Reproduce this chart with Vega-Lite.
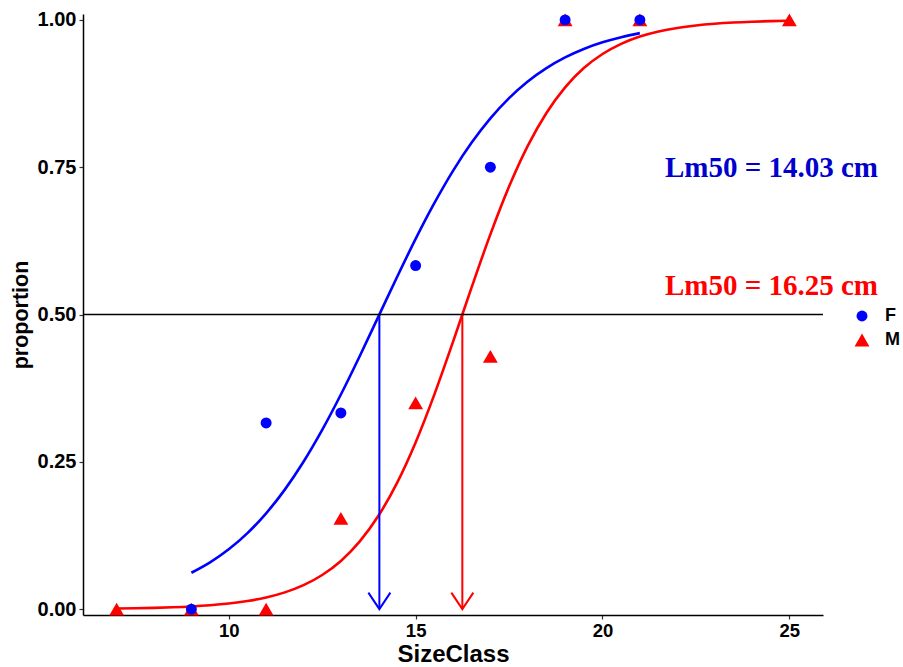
{
  "$schema": "https://vega.github.io/schema/vega-lite/v6.json",
  "width": 740,
  "height": 601,
  "autosize": {"type": "none"},
  "padding": {"left": 83, "top": 14, "right": 80, "bottom": 52},
  "background": "white",
  "config": {
    "view": {"stroke": null},
    "axis": {
      "grid": false,
      "domainColor": "black",
      "domainWidth": 1.5,
      "tickColor": "#333333",
      "tickSize": 4,
      "tickWidth": 1.2,
      "labelFont": "Liberation Sans",
      "labelFontWeight": "bold",
      "labelColor": "black",
      "titleFont": "Liberation Sans",
      "titleFontWeight": "bold",
      "titleColor": "black"
    }
  },
  "datasets": {
    "obs": [
      {"Sex": "M", "SizeClass": 7, "proportion": 0},
      {"Sex": "M", "SizeClass": 9, "proportion": 0},
      {"Sex": "M", "SizeClass": 11, "proportion": 0},
      {"Sex": "M", "SizeClass": 13, "proportion": 0.154},
      {"Sex": "M", "SizeClass": 15, "proportion": 0.35},
      {"Sex": "M", "SizeClass": 17, "proportion": 0.429},
      {"Sex": "M", "SizeClass": 19, "proportion": 1},
      {"Sex": "M", "SizeClass": 21, "proportion": 1},
      {"Sex": "M", "SizeClass": 25, "proportion": 1},
      {"Sex": "F", "SizeClass": 9, "proportion": 0},
      {"Sex": "F", "SizeClass": 11, "proportion": 0.316},
      {"Sex": "F", "SizeClass": 13, "proportion": 0.333},
      {"Sex": "F", "SizeClass": 15, "proportion": 0.583},
      {"Sex": "F", "SizeClass": 17, "proportion": 0.75},
      {"Sex": "F", "SizeClass": 19, "proportion": 1},
      {"Sex": "F", "SizeClass": 21, "proportion": 1}
    ],
    "fit": [
      {"Sex": "F", "SizeClass": 9, "fitted": 0.0617},
      {"Sex": "F", "SizeClass": 9.5, "fitted": 0.0794},
      {"Sex": "F", "SizeClass": 10, "fitted": 0.1015},
      {"Sex": "F", "SizeClass": 10.5, "fitted": 0.129},
      {"Sex": "F", "SizeClass": 11, "fitted": 0.1626},
      {"Sex": "F", "SizeClass": 11.5, "fitted": 0.2028},
      {"Sex": "F", "SizeClass": 12, "fitted": 0.25},
      {"Sex": "F", "SizeClass": 12.5, "fitted": 0.3041},
      {"Sex": "F", "SizeClass": 13, "fitted": 0.3642},
      {"Sex": "F", "SizeClass": 13.5, "fitted": 0.4288},
      {"Sex": "F", "SizeClass": 14, "fitted": 0.496},
      {"Sex": "F", "SizeClass": 14.5, "fitted": 0.5632},
      {"Sex": "F", "SizeClass": 15, "fitted": 0.6283},
      {"Sex": "F", "SizeClass": 15.5, "fitted": 0.6889},
      {"Sex": "F", "SizeClass": 16, "fitted": 0.7438},
      {"Sex": "F", "SizeClass": 16.5, "fitted": 0.7918},
      {"Sex": "F", "SizeClass": 17, "fitted": 0.8329},
      {"Sex": "F", "SizeClass": 17.5, "fitted": 0.8673},
      {"Sex": "F", "SizeClass": 18, "fitted": 0.8955},
      {"Sex": "F", "SizeClass": 18.5, "fitted": 0.9182},
      {"Sex": "F", "SizeClass": 19, "fitted": 0.9364},
      {"Sex": "F", "SizeClass": 19.5, "fitted": 0.9507},
      {"Sex": "F", "SizeClass": 20, "fitted": 0.9619},
      {"Sex": "F", "SizeClass": 20.5, "fitted": 0.9707},
      {"Sex": "F", "SizeClass": 21, "fitted": 0.9775},
      {"Sex": "M", "SizeClass": 7, "fitted": 0.00102},
      {"Sex": "M", "SizeClass": 7.5, "fitted": 0.00149},
      {"Sex": "M", "SizeClass": 8, "fitted": 0.00215},
      {"Sex": "M", "SizeClass": 8.5, "fitted": 0.00312},
      {"Sex": "M", "SizeClass": 9, "fitted": 0.00452},
      {"Sex": "M", "SizeClass": 9.5, "fitted": 0.00655},
      {"Sex": "M", "SizeClass": 10, "fitted": 0.00947},
      {"Sex": "M", "SizeClass": 10.5, "fitted": 0.0137},
      {"Sex": "M", "SizeClass": 11, "fitted": 0.0197},
      {"Sex": "M", "SizeClass": 11.5, "fitted": 0.0284},
      {"Sex": "M", "SizeClass": 12, "fitted": 0.0406},
      {"Sex": "M", "SizeClass": 12.5, "fitted": 0.0579},
      {"Sex": "M", "SizeClass": 13, "fitted": 0.0818},
      {"Sex": "M", "SizeClass": 13.5, "fitted": 0.1145},
      {"Sex": "M", "SizeClass": 14, "fitted": 0.1579},
      {"Sex": "M", "SizeClass": 14.5, "fitted": 0.2138},
      {"Sex": "M", "SizeClass": 15, "fitted": 0.2829},
      {"Sex": "M", "SizeClass": 15.5, "fitted": 0.364},
      {"Sex": "M", "SizeClass": 16, "fitted": 0.4536},
      {"Sex": "M", "SizeClass": 16.5, "fitted": 0.5464},
      {"Sex": "M", "SizeClass": 17, "fitted": 0.636},
      {"Sex": "M", "SizeClass": 17.5, "fitted": 0.7171},
      {"Sex": "M", "SizeClass": 18, "fitted": 0.7862},
      {"Sex": "M", "SizeClass": 18.5, "fitted": 0.8421},
      {"Sex": "M", "SizeClass": 19, "fitted": 0.8855},
      {"Sex": "M", "SizeClass": 19.5, "fitted": 0.9182},
      {"Sex": "M", "SizeClass": 20, "fitted": 0.9421},
      {"Sex": "M", "SizeClass": 20.5, "fitted": 0.9594},
      {"Sex": "M", "SizeClass": 21, "fitted": 0.9717},
      {"Sex": "M", "SizeClass": 21.5, "fitted": 0.9803},
      {"Sex": "M", "SizeClass": 22, "fitted": 0.9863},
      {"Sex": "M", "SizeClass": 22.5, "fitted": 0.99053},
      {"Sex": "M", "SizeClass": 23, "fitted": 0.99345},
      {"Sex": "M", "SizeClass": 23.5, "fitted": 0.99548},
      {"Sex": "M", "SizeClass": 24, "fitted": 0.99688},
      {"Sex": "M", "SizeClass": 24.5, "fitted": 0.99785},
      {"Sex": "M", "SizeClass": 25, "fitted": 0.99851}
    ],
    "lm50": [
      {"Sex": "F", "Lm50": 14.03, "label": "Lm50 = 14.03 cm", "labelX": 24.52, "labelY": 0.733},
      {"Sex": "M", "Lm50": 16.25, "label": "Lm50 = 16.25 cm", "labelX": 24.52, "labelY": 0.5336}
    ]
  },
  "layer": [
    {
      "data": {"name": "fit"},
      "mark": {"type": "line", "strokeWidth": 2.6, "interpolate": "monotone"},
      "encoding": {
        "x": {"field": "SizeClass", "type": "quantitative", "scale": {"domain": [6.1, 25.9], "nice": false, "zero": false},
              "axis": {"values": [10, 15, 20, 25], "title": "SizeClass", "labelFontSize": 18.5, "labelPadding": 2, "titleFontSize": 24, "titlePadding": 3}},
        "y": {"field": "fitted", "type": "quantitative", "scale": {"domain": [-0.01, 1.01], "nice": false, "zero": false},
              "axis": {"values": [0, 0.25, 0.5, 0.75, 1], "format": ".2f", "title": "proportion", "labelFontSize": 20, "labelPadding": 3, "titleFontSize": 21.5, "titlePadding": 5}},
        "color": {"field": "Sex", "type": "nominal", "scale": {"domain": ["F", "M"], "range": ["#0000FF", "#FF0000"]}}
      }
    },
    {
      "data": {"name": "lm50"},
      "mark": {"type": "rule", "strokeWidth": 2},
      "encoding": {
        "x": {"field": "Lm50", "type": "quantitative"},
        "y": {"datum": 0.5},
        "y2": {"datum": 0},
        "color": {"field": "Sex", "type": "nominal"}
      }
    },
    {
      "data": {"name": "lm50"},
      "mark": {"type": "point", "shape": "M -1 -1.5 L 0 0 L 1 -1.5", "filled": false, "size": 484, "strokeWidth": 2, "opacity": 1},
      "encoding": {
        "x": {"field": "Lm50", "type": "quantitative"},
        "y": {"datum": 0},
        "color": {"field": "Sex", "type": "nominal"}
      }
    },
    {
      "data": {"values": [{}]},
      "mark": {"type": "rule", "color": "black", "strokeWidth": 1.5},
      "encoding": {"y": {"datum": 0.5}}
    },
    {
      "data": {"name": "obs"},
      "mark": {"type": "point", "filled": true, "opacity": 1},
      "encoding": {
        "x": {"field": "SizeClass", "type": "quantitative"},
        "y": {"field": "proportion", "type": "quantitative"},
        "color": {"field": "Sex", "type": "nominal",
                  "legend": {"title": null, "orient": "none", "legendX": 770, "legendY": 293, "padding": 0,
                             "labelFont": "Liberation Sans", "labelFontWeight": "bold", "labelFontSize": 18, "labelColor": "black",
                             "symbolSize": 160, "symbolStrokeWidth": 0, "rowPadding": 6, "labelOffset": 14}},
        "shape": {"field": "Sex", "type": "nominal", "scale": {"domain": ["F", "M"], "range": ["circle", "triangle-up"]}},
        "size": {"field": "Sex", "type": "nominal", "scale": {"domain": ["F", "M"], "range": [120, 220]}, "legend": null}
      }
    },
    {
      "data": {"name": "lm50"},
      "transform": [{"filter": "datum.Sex == 'F'"}],
      "mark": {"type": "text", "font": "Liberation Serif", "fontWeight": "bold", "fontSize": 29, "color": "#0000CD", "align": "center", "baseline": "alphabetic"},
      "encoding": {
        "x": {"field": "labelX", "type": "quantitative"},
        "y": {"field": "labelY", "type": "quantitative"},
        "text": {"field": "label"}
      }
    },
    {
      "data": {"name": "lm50"},
      "transform": [{"filter": "datum.Sex == 'M'"}],
      "mark": {"type": "text", "font": "Liberation Serif", "fontWeight": "bold", "fontSize": 29, "color": "#FF0000", "align": "center", "baseline": "alphabetic"},
      "encoding": {
        "x": {"field": "labelX", "type": "quantitative"},
        "y": {"field": "labelY", "type": "quantitative"},
        "text": {"field": "label"}
      }
    }
  ]
}
